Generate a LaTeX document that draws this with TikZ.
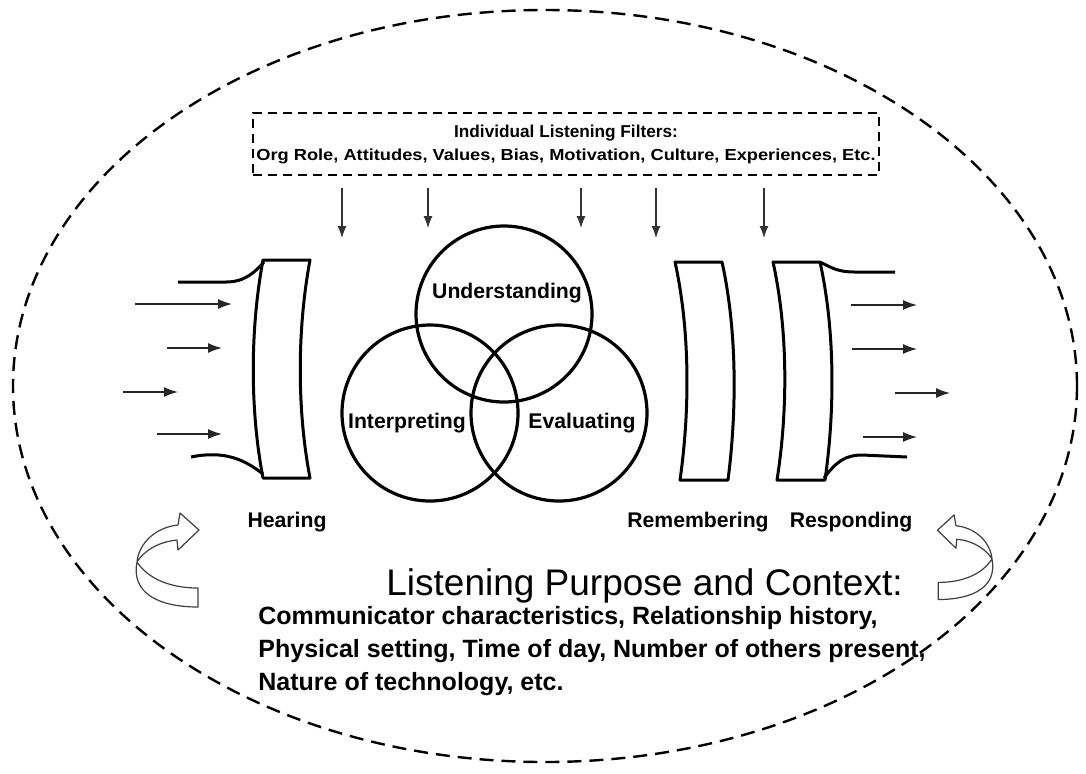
\documentclass[tikz,border=0pt]{standalone}
\usepackage{fontspec}
\usepackage{graphicx}
\setmainfont{Liberation Sans}
\usetikzlibrary{arrows.meta}

\tikzset{
  lentille/.style={line width=1.5pt, line join=round},
  fleche/.style={-{Latex[length=7pt,width=5pt]}, line width=0.7pt, black!85},
  filtre/.style={-{Latex[length=6pt,width=4.5pt]}, line width=0.6pt, black!80},
  etape/.style={font=\bfseries\fontsize{10.6}{12}\selectfont, inner sep=0pt},
  cercle/.style={circle, draw, line width=1.6pt, minimum size=88pt, inner sep=0pt},
  retour/.pic={
    \draw[line width=0.6pt, black!75, fill=white, line join=round]
      (0,0) .. controls (2,-20) and (20,-35) .. (41,-37) -- (43,-49) -- (62,-32)
      -- (41,-12) -- (40,-22) .. controls (20,-20) and (6,-10) .. (0,0)
      .. controls (12,18) and (35,26) .. (61,26) -- (61,45)
      .. controls (20,45) and (-6,30) .. (0,0) -- cycle;
  }
}

\begin{document}
\begin{tikzpicture}[x=0.5pt, y=-0.5pt]
\useasboundingbox (0,0) rectangle (1086,773);

% Contexte (ellipse)
\draw[dash pattern=on 7pt off 4pt, line width=1.2pt] (545,386) ellipse [x radius=266pt, y radius=188pt];

% Filtres
\node[draw, dash pattern=on 4.5pt off 3pt, line width=1pt, minimum width=313pt, minimum height=31pt,
  align=center, inner sep=0pt, font=\bfseries\fontsize{8}{11.5}\selectfont] (filtres) at (566,144)
  {{\fontsize{8.6}{11.5}\selectfont Individual Listening Filters:}\\
   \scalebox{1.14}[1]{Org Role, Attitudes, Values, Bias, Motivation, Culture, Experiences, Etc.}};

% Fleches des filtres
\foreach \x/\y [count=\i] in {342/238, 428/228, 581/228, 656/238, 764/238}{
  \coordinate (f\i) at (\x,\y);
  \draw[filtre] ([yshift=-6pt]filtres.south -| f\i) -- (f\i);
}

% Cercles
\node[cercle] (comprendre) at (504,314) {};
\node[cercle] (interpreter) at (430,413) {};
\node[cercle] (evaluer) at (559,413) {};
\node[etape] (understanding) at (507,293) {Understanding};
\node[etape] (interpreting) at (407,423) {Interpreting};
\node[etape] (evaluating) at (582,423) {Evaluating};

% Lentille gauche
\draw[lentille] (263,260) -- (310,260) .. controls (297,330) and (297,410) .. (310,478)
  -- (263,478) .. controls (250,410) and (250,330) .. (263,260) -- cycle;
\draw[lentille] (178,282) -- (226,282) .. controls (245,282) and (255,272) .. (264,262);
\draw[lentille] (191,457) .. controls (225,450) and (245,460) .. (263,474);

% Lentilles droites
\draw[lentille] (675,262) -- (722,262) .. controls (737,330) and (737,410) .. (728,480)
  -- (680,480) .. controls (690,410) and (690,330) .. (675,262) -- cycle;
\draw[lentille] (773,262) -- (820,262) .. controls (835,330) and (835,410) .. (825,480)
  -- (777,480) .. controls (788,410) and (788,330) .. (773,262) -- cycle;
\draw[lentille] (820,262) .. controls (832,268) and (838,272) .. (855,272) -- (895,272);
\draw[lentille] (824,478) .. controls (836,462) and (845,455) .. (862,455) -- (907,457);

% Fleches entrantes
\foreach \xa/\xb/\y [count=\i] in {135/232/304, 167/222/348, 123/178/392, 157/222/434}{
  \coordinate (e\i) at (\xb,\y);
  \draw[fleche] (\xa,\y) -- (e\i);
}

% Fleches sortantes
\foreach \xa/\xb/\y [count=\i] in {851/917/305, 852/917/349, 895/950/393, 863/917/437}{
  \coordinate (s\i) at (\xb,\y);
  \draw[fleche] (\xa,\y) -- (s\i);
}

% Etapes
\node[etape] (hearing) at (287,522) {Hearing};
\node[etape] (remembering) at (698,522) {Remembering};
\node[etape] (responding) at (851,522) {Responding};

% Demi-tours
\pic at (137,562) {retour};
\pic[xscale=-0.88, yscale=0.9] at (992,559) {retour};

% Texte du contexte
\node[anchor=base west, font=\fontsize{18.5}{22}\selectfont, inner sep=0pt] (contexte) at (386,595)
  {Listening Purpose and Context:};
\node[anchor=north west, align=left, font=\bfseries\fontsize{12.5}{16.5}\selectfont, inner sep=0pt] (details) at (258,606)
  {Communicator characteristics, Relationship history,\\
   Physical setting, Time of day, Number of others present,\\
   Nature of technology, etc.};

\end{tikzpicture}
\end{document}
